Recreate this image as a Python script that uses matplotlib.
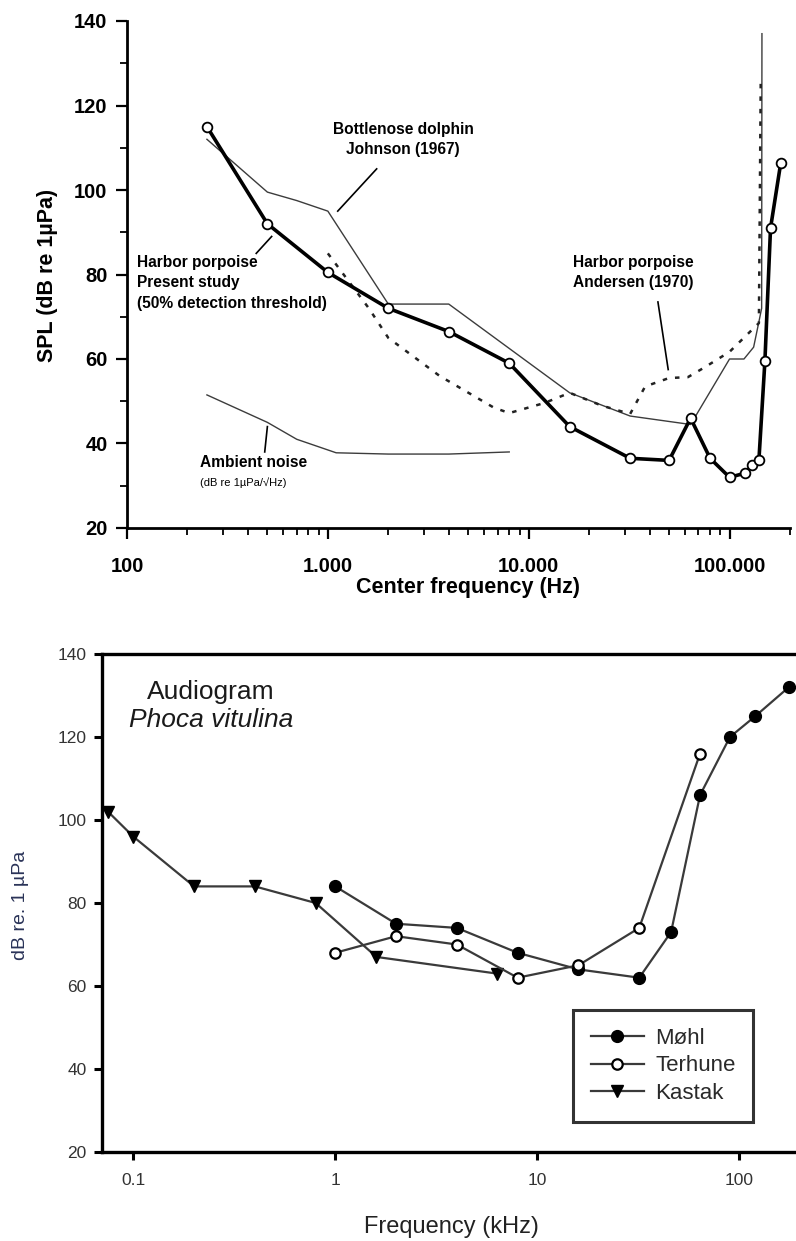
import matplotlib
matplotlib.use("Agg")
import matplotlib.pyplot as plt
from matplotlib.ticker import FixedLocator, FixedFormatter, LogLocator, MultipleLocator, NullLocator, NullFormatter

plt.rcParams['font.family'] = ['Liberation Sans', 'DejaVu Sans']

# ---------------- Top chart data (Hz, dB) ----------------
present_f = [250, 500, 1000, 2000, 4000, 8000, 16000, 32000, 50000, 64000,
             80000, 100000, 120000, 130000, 140000, 150000, 160000, 180000]
present_db = [115, 92, 80.5, 72, 66.5, 59, 44, 36.5, 36, 46,
              36.5, 32, 33, 35, 36, 59.5, 91, 106.5]

johnson_f = [250, 500, 700, 1000, 2000, 4000, 16000, 32000, 64000,
             100000, 118000, 131800, 139600, 144500, 145000]
johnson_db = [112, 99.5, 97.5, 95, 73, 73, 52, 46.5, 44.5,
              60, 60, 62.8, 68.5, 72, 137]

andersen_f = [1000, 1600, 2000, 3600, 6700, 8000, 12000, 16000, 23000,
              32000, 38000, 50000, 62000, 75000, 100000, 140000, 143000]
andersen_db = [85, 72, 65, 56, 48.5, 47.2, 49.6, 52, 49,
               47, 53.5, 55.5, 55.7, 58, 61.7, 68.5, 126]

noise_f = [250, 500, 700, 1100, 2000, 4000, 8000]
noise_db = [51.5, 45, 41, 37.8, 37.5, 37.5, 38]

top_xticks = [100, 1000, 10000, 100000]
top_xticklabels = ["100", "1.000", "10.000", "100.000"]
top_yticks = [20, 40, 60, 80, 100, 120, 140]

# ---------------- Bottom chart data (kHz, dB) ----------------
mohl_f = [1, 2, 4, 8, 16, 32, 46, 64, 90, 120, 176]
mohl_db = [84, 75, 74, 68, 64, 62, 73, 106, 120, 125, 132]

terhune_f = [1, 2, 4, 8, 16, 32, 64]
terhune_db = [68, 72, 70, 62, 65, 74, 116]

kastak_f = [0.075, 0.1, 0.2, 0.4, 0.8, 1.6, 6.3]
kastak_db = [102, 96, 84, 84, 80, 67, 63]

bot_xticks = [0.1, 1, 10, 100]
bot_xticklabels = ["0.1", "1", "10", "100"]
bot_yticks = [20, 40, 60, 80, 100, 120, 140]

W, H = 796, 1241
fig = plt.figure(figsize=(W / 100, H / 100), dpi=100)


def fx(px):
    return px / W


def fy(py):
    return 1 - py / H


# ================= TOP =================
ax1 = fig.add_axes([fx(127), fy(528), fx(790) - fx(127), fy(21) - fy(528)])
ax1.set_xscale('log')
ax1.set_xlim(100, 200000)
ax1.set_ylim(20, 140)
for s in ['top', 'right']:
    ax1.spines[s].set_visible(False)
for s in ['left', 'bottom']:
    ax1.spines[s].set_linewidth(2.0)

thin_col = '#3c3c3c'
ax1.plot(noise_f, noise_db, color=thin_col, lw=1.0)
ax1.plot(johnson_f, johnson_db, color=thin_col, lw=1.0)
ax1.plot(andersen_f, andersen_db, color='#222222', lw=1.8, linestyle=(0, (1.8, 3.2)))
ax1.plot(present_f, present_db, color='black', lw=2.6, marker='o', ms=7,
         mfc='white', mec='black', mew=1.3, zorder=5)

ax1.xaxis.set_major_locator(FixedLocator(top_xticks))
ax1.xaxis.set_major_formatter(FixedFormatter(top_xticklabels))
ax1.xaxis.set_minor_locator(LogLocator(base=10, subs=[2, 3, 4, 5, 6, 7, 8, 9], numticks=20))
ax1.xaxis.set_minor_formatter(NullFormatter())
ax1.yaxis.set_major_locator(FixedLocator(top_yticks))
ax1.yaxis.set_minor_locator(MultipleLocator(10))
ax1.tick_params(axis='both', which='major', direction='out', length=8, width=1.6,
                labelsize=14.5)
ax1.tick_params(axis='both', which='minor', direction='out', length=5, width=1.3)
ax1.tick_params(axis='x', which='major', pad=13)
ax1.tick_params(axis='y', which='major', pad=6)
for lab in ax1.get_xticklabels() + ax1.get_yticklabels():
    lab.set_fontweight('bold')

fig.text(fx(48), fy(275), "SPL (dB re 1µPa)", rotation=90, ha='center', va='center',
         fontsize=15.5, fontweight='bold')
fig.text(fx(468), fy(588), "Center frequency (Hz)", ha='center', va='center',
         fontsize=15.5, fontweight='bold')

afs = 11.2
fig.text(fx(403), fy(122), "Bottlenose dolphin\nJohnson (1967)", ha='center', va='top',
         fontsize=afs, fontweight='bold', linespacing=1.45)
ax1.plot([1750, 1120], [105, 95], color='black', lw=1.2)
fig.text(fx(137), fy(255), "Harbor porpoise\nPresent study\n(50% detection threshold)",
         ha='left', va='top', fontsize=afs, fontweight='bold', linespacing=1.45)
ax1.plot([440, 525], [85, 89], color='black', lw=1.2)
fig.text(fx(573), fy(255), "Harbor porpoise\nAndersen (1970)",
         ha='left', va='top', fontsize=afs, fontweight='bold', linespacing=1.45)
ax1.plot([44000, 49500], [73.5, 57.5], color='black', lw=1.2)
fig.text(fx(200), fy(463), "Ambient noise", ha='left', va='center', fontsize=afs,
         fontweight='bold')
fig.text(fx(200), fy(483), "(dB re 1µPa/√Hz)", ha='left', va='center', fontsize=8)
ax1.plot([500, 485], [44, 38], color='black', lw=1.2)

# ================= BOTTOM =================
ax2 = fig.add_axes([fx(102), fy(1152), fx(800) - fx(102), fy(654) - fy(1152)])
ax2.set_xscale('log')
ax2.set_xlim(0.07, 200)
ax2.set_ylim(20, 140)
ax2.spines['right'].set_visible(False)
for s in ['top', 'left', 'bottom']:
    ax2.spines[s].set_linewidth(2.4)

line_col = '#3a3a3a'
ax2.plot(mohl_f, mohl_db, color=line_col, lw=1.6, marker='o', ms=8.5,
         mfc='black', mec='black', label='Møhl', zorder=4)
ax2.plot(terhune_f, terhune_db, color=line_col, lw=1.6, marker='o', ms=7.5,
         mfc='white', mec='black', mew=1.6, label='Terhune', zorder=5)
ax2.plot(kastak_f, kastak_db, color=line_col, lw=1.6, marker='v', ms=9,
         mfc='black', mec='black', label='Kastak', zorder=4)

ax2.xaxis.set_major_locator(FixedLocator(bot_xticks))
ax2.xaxis.set_major_formatter(FixedFormatter(bot_xticklabels))
ax2.xaxis.set_minor_locator(NullLocator())
ax2.yaxis.set_major_locator(FixedLocator(bot_yticks))
ax2.tick_params(axis='both', which='major', direction='out', length=6, width=2.2,
                labelsize=12.5, labelcolor='#333333')
ax2.tick_params(axis='x', pad=9)
ax2.tick_params(axis='y', pad=5)

fig.text(fx(21), fy(905), "dB re. 1 µPa", rotation=90, ha='center', va='center',
         fontsize=14, color='#2a3358')
fig.text(fx(451), fy(1227), "Frequency (kHz)", ha='center', va='center',
         fontsize=17, color='#222222')
fig.text(fx(211), fy(692), "Audiogram", ha='center', va='center', fontsize=19,
         color='#1a1a1a')
fig.text(fx(211), fy(720), "Phoca vitulina", ha='center', va='center', fontsize=19,
         style='italic', color='#1a1a1a')

leg = ax2.legend(loc='upper left', bbox_to_anchor=(fx(573), fy(1010)),
                 bbox_transform=fig.transFigure, frameon=True, fancybox=False,
                 edgecolor='black', fontsize=16, handlelength=2.4,
                 handletextpad=0.5, borderpad=0.8, labelspacing=0.3,
                 borderaxespad=0)
leg.get_frame().set_linewidth(2.2)
for t in leg.get_texts():
    t.set_color('#2a2a2a')

fig.savefig("out.png", dpi=100)
